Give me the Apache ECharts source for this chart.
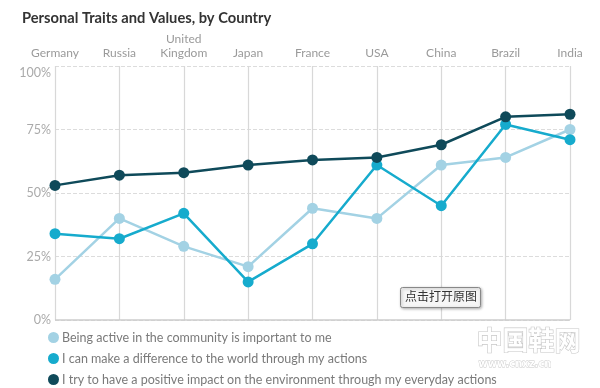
<!DOCTYPE html>
<html>
<head>
<meta charset="utf-8">
<script src="https://cdn.jsdelivr.net/npm/echarts@6/dist/echarts.min.js"></script>
<style>html,body{margin:0;padding:0;background:#fff}#c{width:600px;height:388px}</style>
</head>
<body>
<div id="c"></div>
<script>
var categories = ['Germany', 'Russia', 'United\nKingdom', 'Japan', 'France', 'USA', 'China', 'Brazil', 'India'];
var seriesNames = [
  'Being active in the community is important to me',
  'I can make a difference to the world through my actions',
  'I try to have a positive impact on the environment through my everyday actions'
];
var community = [16, 40, 29, 21, 44, 40, 61, 64, 75];
var difference = [34, 32, 42, 15, 30, 61, 45, 77, 71];
var environment = [53, 57, 58, 61, 63, 64, 69, 80, 81];
var yTicks = [0, 25, 50, 75, 100];

var colors = ['#a3d2e4', '#16abcd', '#0f4a5a'];
var chart = echarts.init(document.getElementById('c'));
function mk(name, data, color, z) {
  return {
    name: name, type: 'line', data: data, z: z,
    symbol: 'circle', symbolSize: 11,
    lineStyle: { color: color, width: 2.5 },
    itemStyle: { color: color },
    emphasis: { disabled: true }
  };
}
var legendTops = [331, 352, 373];
var legends = seriesNames.map(function (n, i) {
  return {
    orient: 'horizontal', left: 48, top: legendTops[i], padding: [0, 0, 0, 0],
    icon: 'circle', itemWidth: 11, itemHeight: 11, itemGap: 0,
    textStyle: { fontFamily: 'Lato', fontSize: 12.5, color: '#7a7a7a', padding: [0, 0, 0, -2] },
    data: [n]
  };
});
chart.setOption({
  animation: false,
  title: {
    text: 'Personal Traits and Values, by Country',
    left: 17, top: 6,
    textStyle: { fontFamily: 'Lato', fontWeight: 'bold', fontSize: 14.7, color: '#333' }
  },
  legend: legends,
  grid: { left: 55, right: 30, top: 66, bottom: 68 },
  xAxis: {
    type: 'category', position: 'top', data: categories, boundaryGap: false,
    axisLine: { show: false }, axisTick: { show: false },
    axisLabel: { color: '#9a9a9a', fontFamily: 'Lato', fontSize: 12, margin: 6, lineHeight: 14 },
    splitLine: { show: true, lineStyle: { color: '#d8d8d8', width: 1.2 } }
  },
  yAxis: {
    type: 'value', min: 0, max: 100, interval: 25,
    axisLine: { show: false }, axisTick: { show: false },
    axisLabel: { color: '#aaa', fontFamily: 'Lato', fontSize: 12.5, margin: 4,
      verticalAlignMaxLabel: 'top',
      formatter: function (v) { return yTicks.indexOf(v) >= 0 ? v + '%' : ''; } },
    splitLine: { show: true, lineStyle: { color: '#dcdcdc', type: 'dashed', width: 1 } }
  },
  series: [
    mk(seriesNames[0], community, colors[0], 2),
    mk(seriesNames[1], difference, colors[1], 3),
    mk(seriesNames[2], environment, colors[2], 4),
    {
      type: 'line', data: [], silent: true,
      markLine: { silent: true, symbol: 'none', label: { show: false },
        lineStyle: { color: '#ccc', type: 'solid', width: 1.5 }, data: [{ yAxis: 0 }] }
    }
  ],
  graphic: [
    { type: 'rect', left: 400, top: 287, z: 100, shape: { width: 80, height: 20, r: 2 },
      style: { fill: '#f6f6f6', stroke: '#888', lineWidth: 1, shadowBlur: 3, shadowColor: 'rgba(0,0,0,0.3)', shadowOffsetX: 1, shadowOffsetY: 1 } },
    { type: 'text', left: 405, top: 290, z: 101,
      style: { text: '点击打开原图', fontFamily: 'Noto Sans CJK SC', fontSize: 12, fill: '#333' } },
    { type: 'text', left: 476, top: 327, z: 100,
      style: { text: '中国鞋网', fontFamily: 'Noto Sans CJK SC', fontWeight: 'bold', fontSize: 26, fill: '#ffffff',
        stroke: '#c8c8c8', lineWidth: 1.2 } },
    { type: 'text', left: 478, top: 359, z: 100,
      style: { text: 'www.cnxz.cn', fontFamily: 'DejaVu Sans', fontWeight: 'bold', fontSize: 10, fill: '#ffffff',
        stroke: '#c8c8c8', lineWidth: 0.8 } }
  ]
});
</script>
</body>
</html>
